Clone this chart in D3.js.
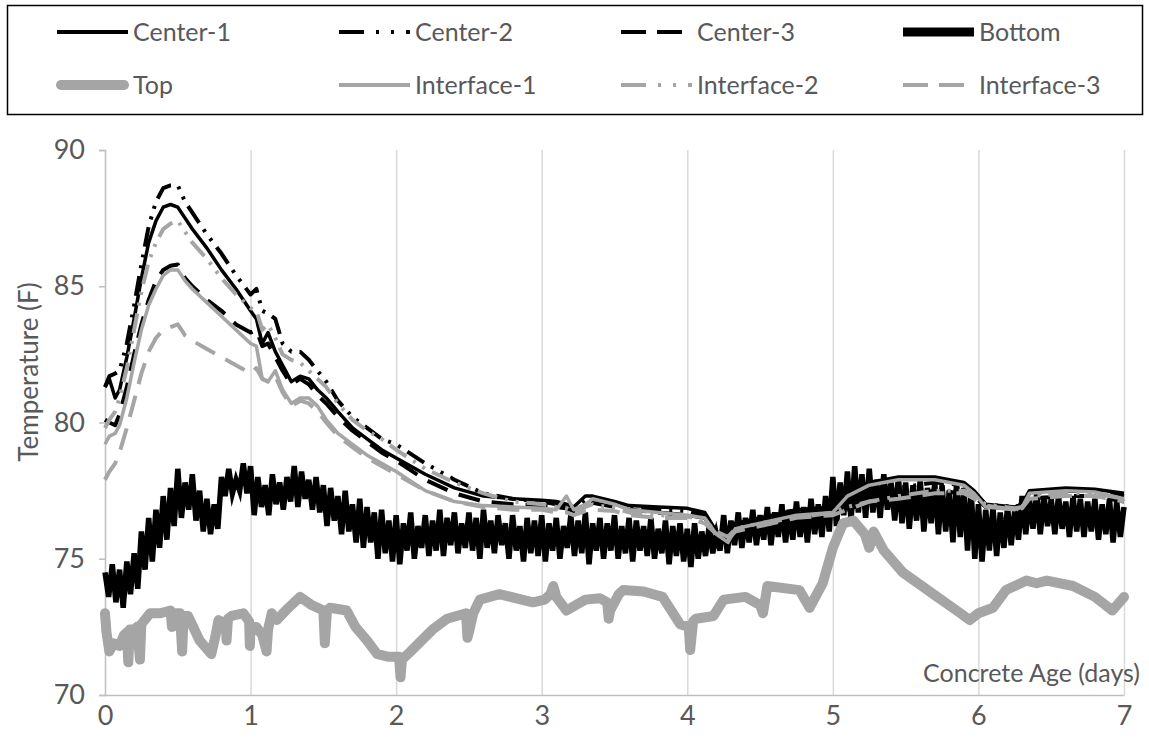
<!DOCTYPE html>
<html lang="en">
<head>
<meta charset="UTF-8">
<title>Concrete temperature</title>
<script src="https://d3js.org/d3.v7.min.js"></script>
<style>
  body { margin: 0; background: #fff; }
  text { font-family: Lato, "Open Sans", sans-serif; fill: #595959; }
</style>
</head>
<body>
<script>
// tick labels
const dayTicks = [0, 1, 2, 3, 4, 5, 6, 7];
const tempTicks = [70, 75, 80, 85, 90];

// sample times (days) shared by centre / interface gauges
const timeC = [0, 0.03, 0.07, 0.1, 0.15, 0.2, 0.25, 0.3, 0.35, 0.4, 0.45, 0.5, 0.55, 0.6, 0.7, 0.8, 0.9, 1.0, 1.04, 1.08,
  1.12, 1.17, 1.22, 1.28, 1.34, 1.4, 1.46, 1.52, 1.6, 1.7, 1.8, 1.9, 2.0, 2.2, 2.4, 2.6, 2.8, 3.0, 3.1, 3.17,
  3.22, 3.3, 3.35, 3.5, 3.6, 3.8, 4.0, 4.12, 4.2, 4.28, 4.33, 4.5, 4.75, 5.0, 5.1, 5.25, 5.45, 5.7, 5.9, 5.97,
  6.05, 6.25, 6.3, 6.35, 6.6, 6.8, 7.0];

const center1 = [81.3, 81.6, 80.9, 81.2, 82.4, 83.8, 85.3, 86.6, 87.4, 87.9, 88.0, 87.9, 87.5, 87.1, 86.4, 85.6, 84.9, 84.1, 83.8, 82.9,
  83.3, 82.6, 82.1, 81.5, 81.7, 81.6, 81.2, 80.9, 80.4, 79.8, 79.4, 79.0, 78.7, 78.1, 77.6, 77.3, 77.2, 77.15, 77.1, 77.0,
  76.9, 77.3, 77.3, 77.1, 76.95, 76.9, 76.85, 76.7, 76.0, 75.8, 76.3, 76.5, 76.8, 76.9, 77.4, 77.8, 78.0, 78.0, 77.8, 77.5,
  77.0, 76.9, 77.0, 77.5, 77.6, 77.55, 77.4];
const center2 = [81.3, 81.7, 81.8, 81.9, 82.9, 84.3, 85.8, 87.2, 88.1, 88.6, 88.7, 88.7, 88.1, 87.7, 86.9, 86.2, 85.4, 84.7, 84.9, 84.1,
  84.0, 83.8, 82.9, 82.6, 82.6, 82.3, 81.9, 81.5, 80.8, 80.2, 79.8, 79.4, 79.2, 78.5, 77.9, 77.4, 77.2, 77.1, 77.0, 76.95,
  76.85, 77.15, 77.2, 77.05, 76.9, 76.8, 76.75, 76.6, 76.1, 75.9, 76.2, 76.4, 76.7, 76.8, 77.0, 77.3, 77.6, 77.8, 77.7, 77.4,
  77.0, 76.9, 77.0, 77.4, 77.5, 77.45, 77.3];
const center3 = [80.1, 80.0, 79.9, 80.3, 81.3, 82.5, 83.6, 84.5, 85.2, 85.6, 85.75, 85.8, 85.3, 85.0, 84.5, 84.1, 83.6, 83.3, 83.4, 82.8,
  82.9, 82.4, 81.9, 81.4, 81.6, 81.4, 81.0, 80.7, 80.2, 79.7, 79.3, 78.9, 78.6, 77.9, 77.4, 77.1, 77.0, 76.95, 76.9, 76.85,
  76.75, 77.0, 77.05, 76.9, 76.8, 76.7, 76.6, 76.5, 76.0, 75.8, 76.2, 76.4, 76.6, 76.7, 76.8, 77.1, 77.3, 77.5, 77.4, 77.3,
  76.9, 76.85, 76.9, 77.2, 77.3, 77.3, 77.1];
const iface1 = [79.2, 79.5, 79.6, 79.9, 80.9, 82.2, 83.4, 84.3, 84.9, 85.4, 85.6, 85.6, 85.2, 84.9, 84.4, 83.9, 83.4, 82.9, 82.8, 81.6,
  81.5, 81.9, 81.2, 80.7, 80.9, 80.9, 80.6, 80.1, 79.6, 79.2, 78.8, 78.5, 78.2, 77.5, 77.1, 76.95, 76.9, 76.85, 76.8, 77.3,
  76.8, 77.0, 77.2, 77.0, 76.8, 76.7, 76.6, 76.5, 75.9, 75.6, 76.1, 76.3, 76.6, 76.7, 77.3, 77.7, 77.9, 77.9, 77.7, 77.4,
  76.9, 76.8, 76.9, 77.4, 77.5, 77.45, 77.2];
const iface2 = [79.8, 80.1, 80.4, 80.9, 82.0, 83.4, 84.8, 85.9, 86.6, 87.1, 87.3, 87.4, 87.0, 86.6, 86.0, 85.3, 84.7, 84.2, 84.1, 83.4,
  83.6, 83.1, 82.5, 82.3, 82.2, 81.9, 81.6, 81.3, 80.7, 80.1, 79.7, 79.4, 79.0, 78.3, 77.8, 77.4, 77.1, 77.0, 76.9, 76.85,
  76.7, 76.9, 77.0, 76.85, 76.7, 76.6, 76.55, 76.4, 76.0, 75.8, 76.1, 76.3, 76.5, 76.7, 76.9, 77.1, 77.3, 77.5, 77.5, 77.3,
  77.0, 76.85, 76.9, 77.3, 77.4, 77.4, 77.2];
const iface3 = [77.9, 78.2, 78.5, 78.9, 79.8, 80.8, 81.8, 82.6, 83.1, 83.4, 83.5, 83.6, 83.2, 83.0, 82.7, 82.4, 82.1, 81.8, 82.0, 81.6,
  81.5, 81.7, 81.1, 80.6, 80.8, 80.7, 80.4, 80.0, 79.5, 79.1, 78.7, 78.4, 78.1, 77.5, 77.1, 76.9, 76.8, 76.8, 76.7, 76.7,
  76.6, 76.75, 76.8, 76.75, 76.6, 76.5, 76.5, 76.3, 75.9, 75.7, 76.0, 76.2, 76.5, 76.6, 76.8, 77.1, 77.2, 77.4, 77.4, 77.2,
  76.95, 76.8, 76.85, 77.2, 77.3, 77.3, 77.1];

// top gauge (own sample times)
const timeTop = [0, 0.01, 0.03, 0.06, 0.1, 0.13, 0.15, 0.16, 0.17, 0.2, 0.22, 0.24, 0.25, 0.28, 0.31, 0.38, 0.45, 0.46, 0.47, 0.515,
  0.53, 0.54, 0.57, 0.65, 0.73, 0.76, 0.78, 0.83, 0.835, 0.845, 0.87, 0.95, 0.99, 0.995, 1.0, 1.04, 1.08, 1.11, 1.12, 1.145,
  1.18, 1.26, 1.34, 1.42, 1.5, 1.51, 1.525, 1.545, 1.66, 1.72, 1.8, 1.87, 1.95, 2.02, 2.03, 2.04, 2.1, 2.25, 2.35, 2.48,
  2.49, 2.5, 2.53, 2.575, 2.71, 2.94, 3.02, 3.06, 3.08, 3.1, 3.17, 3.3, 3.4, 3.45, 3.46, 3.47, 3.53, 3.56, 3.7, 3.83,
  3.95, 4.01, 4.02, 4.04, 4.06, 4.18, 4.25, 4.4, 4.5, 4.52, 4.55, 4.77, 4.84, 4.88, 4.93, 5.0, 5.07, 5.14, 5.22, 5.25,
  5.28, 5.35, 5.48, 5.69, 5.85, 5.94, 6.0, 6.1, 6.19, 6.33, 6.4, 6.47, 6.65, 6.8, 6.92, 7.0];
const topTemp = [73.0, 72.3, 71.6, 71.9, 71.8, 72.2, 72.3, 71.2, 72.4, 72.4, 72.5, 71.3, 72.6, 72.8, 73.0, 73.0, 73.1, 72.5, 73.0, 73.0,
  71.6, 72.9, 72.9, 72.0, 71.5, 72.2, 72.75, 72.6, 72.0, 72.8, 72.9, 73.0, 72.7, 71.8, 72.5, 72.5, 72.2, 71.6, 72.4, 73.0,
  72.75, 73.2, 73.6, 73.3, 73.1, 71.9, 73.1, 73.2, 73.1, 72.5, 72.0, 71.5, 71.4, 71.4, 70.65, 71.3, 71.6, 72.4, 72.8, 73.0,
  72.1, 72.3, 73.0, 73.5, 73.7, 73.4, 73.5, 73.7, 74.0, 73.6, 73.1, 73.5, 73.55, 73.4, 72.8, 73.1, 73.7, 73.85, 73.8, 73.6,
  72.6, 72.5, 71.65, 72.7, 72.8, 72.9, 73.5, 73.6, 73.3, 73.0, 74.0, 73.85, 73.2, 73.6, 74.1, 75.4, 76.3, 76.4, 75.9, 75.4,
  76.0, 75.3, 74.5, 73.7, 73.1, 72.75, 73.0, 73.2, 73.85, 74.2, 74.1, 74.2, 74.0, 73.6, 73.1, 73.6];

// bottom gauge, logged every 0.025 day (noisy)
const bottomStep = 0.025;
const bottomTemp = [
  74.5, 73.6, 74.8, 73.4, 74.6, 73.2, 74.9, 73.7, 75.2, 73.9,
  76.0, 74.6, 76.5, 74.9, 76.8, 75.4, 77.3, 75.7, 77.6, 76.2,
  78.3, 76.5, 77.8, 76.8, 78.1, 76.4, 77.5, 76.0, 77.2, 75.9,
  77.0, 76.1, 78.0, 77.3, 78.3, 77.4, 77.9, 77.5, 78.5, 77.4,
  78.4, 76.6, 78.0, 76.9, 77.7, 76.6, 78.1, 77.0, 77.8, 76.8,
  78.0, 77.1, 78.4, 76.9, 78.2, 77.2, 77.9, 76.8, 78.0, 76.7,
  77.7, 76.2, 77.6, 76.4, 77.3, 75.9, 77.5, 76.0, 77.0, 75.6,
  77.2, 75.4, 76.9, 75.6, 76.7, 75.0, 76.8, 75.2, 76.4, 74.9,
  76.6, 74.8, 76.3, 75.3, 76.7, 75.0, 76.2, 75.4, 76.6, 75.1,
  76.4, 75.3, 76.8, 75.1, 76.5, 75.5, 76.7, 75.2, 76.3, 75.4,
  76.7, 75.3, 76.5, 75.0, 76.8, 75.4, 76.4, 75.2, 76.6, 75.5,
  76.3, 75.0, 76.6, 75.3, 76.2, 74.9, 76.5, 75.2, 76.4, 75.1,
  76.6, 74.9, 76.3, 75.3, 76.5, 75.0, 76.2, 75.4, 76.6, 75.1,
  76.4, 75.2, 76.7, 74.8, 76.3, 75.3, 76.5, 75.0, 76.3, 75.3,
  76.6, 75.0, 76.2, 75.2, 76.5, 74.9, 76.4, 75.3, 76.2, 75.1,
  76.5, 75.0, 76.1, 75.2, 76.4, 74.8, 76.2, 75.1, 76.3, 74.9,
  76.1, 74.7, 76.3, 75.0, 76.0, 75.1, 76.2, 75.2, 75.9, 75.3,
  76.6, 75.2, 76.4, 75.5, 76.7, 75.4, 76.5, 75.6, 76.8, 75.5,
  76.6, 75.7, 76.9, 75.5, 76.7, 75.8, 77.0, 75.6, 76.8, 75.7,
  77.1, 75.8, 76.9, 75.6, 77.2, 75.9, 77.0, 75.8, 77.3, 76.0,
  78.0, 76.2, 77.8, 76.6, 78.2, 76.4, 78.4, 76.7, 78.1, 76.5,
  78.3, 76.7, 77.9, 76.5, 78.1, 76.8, 77.8, 76.4, 78.0, 76.3,
  77.8, 76.1, 77.7, 76.4, 77.9, 76.0, 77.6, 76.3, 77.8, 75.9,
  77.7, 76.0, 77.5, 75.6, 77.8, 75.8, 77.6, 75.3, 77.5, 75.0,
  77.0, 74.9, 76.8, 75.3, 76.9, 75.1, 76.7, 75.4, 76.9, 75.5,
  76.8, 75.7, 77.3, 75.9, 77.2, 76.1, 77.4, 75.9, 77.3, 76.2,
  77.2, 75.9, 77.3, 76.1, 77.1, 75.8, 77.3, 76.0, 77.2, 75.8,
  77.1, 76.0, 77.2, 75.7, 77.0, 75.9, 77.2, 75.6, 77.1, 75.8, 76.9
];

const legendNames = ["Center-1", "Center-2", "Center-3", "Bottom", "Top", "Interface-1", "Interface-2", "Interface-3"];

const W = 1149, H = 746;
const GRAY = "#a5a5a5";

const svg = d3.select("body").append("svg")
  .attr("width", W)
  .attr("height", H);

const x = d3.scaleLinear().domain([0, 7]).range([105, 1124]);
const y = d3.scaleLinear().domain([70, 90]).range([695, 150]);

// vertical grid lines
svg.append("g")
  .attr("transform", "translate(0,695)")
  .call(d3.axisBottom(x).tickValues(dayTicks.slice(1)).tickSize(-545).tickFormat(""))
  .call(g => g.select(".domain").remove())
  .call(g => g.selectAll("line").attr("stroke", "#d9d9d9").attr("stroke-width", 1.5));

// y axis
svg.append("g")
  .attr("transform", "translate(105,0)")
  .call(d3.axisLeft(y).tickValues(tempTicks).tickSize(6).tickPadding(14))
  .call(g => g.select(".domain").attr("stroke", "#bfbfbf").attr("stroke-width", 1.5))
  .call(g => g.selectAll("line").attr("stroke", "#bfbfbf").attr("stroke-width", 1.5))
  .call(g => g.selectAll("text").attr("font-size", 27).attr("font-family", "Lato").attr("fill", "#595959"));

// x axis
svg.append("g")
  .attr("transform", "translate(0,695)")
  .call(d3.axisBottom(x).tickValues(dayTicks).tickFormat(d3.format("d")).tickSize(0).tickPadding(11))
  .call(g => g.select(".domain").attr("stroke", "#bfbfbf").attr("stroke-width", 1.5))
  .call(g => g.selectAll("text").attr("font-size", 27).attr("font-family", "Lato").attr("fill", "#595959"));

// axis titles
svg.append("text")
  .attr("transform", "translate(38,372) rotate(-90)")
  .attr("text-anchor", "middle")
  .attr("font-size", 26)
  .text("Temperature (F)");

svg.append("text")
  .attr("x", 1140)
  .attr("y", 682)
  .attr("text-anchor", "end")
  .attr("font-size", 25)
  .text("Concrete Age (days)");

// series styles
const styles = {
  "Center-1": { color: "#000", width: 3.5, dash: null },
  "Center-2": { color: "#000", width: 4, dash: "20,8,3,8,3,8" },
  "Center-3": { color: "#000", width: 4, dash: "22,12" },
  "Bottom": { color: "#000", width: 5.5, dash: null },
  "Top": { color: GRAY, width: 10, dash: null },
  "Interface-1": { color: GRAY, width: 3.5, dash: null },
  "Interface-2": { color: GRAY, width: 4, dash: "20,8,3,8,3,8" },
  "Interface-3": { color: GRAY, width: 4, dash: "22,12" }
};

const series = [
  { name: "Center-1", t: timeC, v: center1 },
  { name: "Center-2", t: timeC, v: center2 },
  { name: "Center-3", t: timeC, v: center3 },
  { name: "Bottom", t: bottomTemp.map((d, i) => i * bottomStep), v: bottomTemp },
  { name: "Top", t: timeTop, v: topTemp },
  { name: "Interface-1", t: timeC, v: iface1 },
  { name: "Interface-2", t: timeC, v: iface2 },
  { name: "Interface-3", t: timeC, v: iface3 }
];

const line = d3.line()
  .x(d => x(d[0]))
  .y(d => y(d[1]));

series.forEach(s => {
  const st = styles[s.name];
  svg.append("path")
    .datum(s.t.map((t, i) => [t, s.v[i]]))
    .attr("fill", "none")
    .attr("stroke", st.color)
    .attr("stroke-width", st.width)
    .attr("stroke-dasharray", st.dash)
    .attr("stroke-linejoin", s.name === "Bottom" ? "miter" : "round")
    .attr("stroke-miterlimit", 6)
    .attr("stroke-linecap", s.name === "Top" ? "round" : "butt")
    .attr("d", line);
});

// legend
svg.append("rect")
  .attr("x", 7.5).attr("y", 5.5)
  .attr("width", 1135).attr("height", 109)
  .attr("fill", "none")
  .attr("stroke", "#000")
  .attr("stroke-width", 1.5);

const legend = svg.append("g").selectAll("g")
  .data(legendNames)
  .join("g")
  .attr("transform", (d, i) => "translate(" + (57 + (i % 4) * 282) + "," + (i < 4 ? 32 : 85) + ")");

legend.append("line")
  .attr("x1", d => d === "Top" ? 4 : 0)
  .attr("x2", d => d === "Top" ? 67 : 71)
  .attr("stroke", d => styles[d].color)
  .attr("stroke-width", d => d === "Bottom" ? 9 : (d === "Top" ? 10 : 4))
  .attr("stroke-dasharray", d => styles[d].dash ? (styles[d].dash === "22,12" ? "25,11" : "25,12,3,12,3,12") : null)
  .attr("stroke-linecap", d => d === "Top" ? "round" : "butt");

legend.append("text")
  .attr("x", 76)
  .attr("dy", "0.35em")
  .attr("font-size", 25)
  .text(d => d);
</script>
</body>
</html>
